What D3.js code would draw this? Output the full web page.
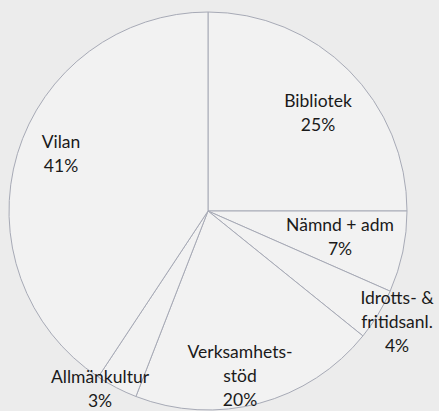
<!DOCTYPE html>
<html><head><meta charset="utf-8">
<script src="https://cdn.jsdelivr.net/npm/d3@7"></script>
<style>html,body{margin:0;padding:0;background:#ececec;}svg{display:block;}</style>
</head><body>
<svg id="chart" width="439" height="411"></svg>
<script>
const categories = ["Bibliotek", "Nämnd + adm", "Idrotts- & fritidsanl.", "Verksamhetsstöd", "Allmänkultur", "Vilan"];
const values = [25.0, 6.6, 4.2, 20.1, 3.4, 40.7];
const labelLines = [["Bibliotek"], ["Nämnd + adm"], ["Idrotts- &", "fritidsanl."], ["Verksamhets-", "stöd"], ["Allmänkultur"], ["Vilan"]];
const labelPos = [[318, 0], [340, 0], [397, 0], [240, 0], [100, 0], [61, 0]];
const labelTopBaseline = [107, 231, 304, 358, 383, 148];

const W = 439, H = 411, cx = 208, cy = 211, R = 199;
const svg = d3.select("#chart");
const g = svg.append("g").attr("transform", `translate(${cx},${cy})`);
const total = d3.sum(values);
const pie = d3.pie().sort(null).value(d => d)(values);
const arc = d3.arc().innerRadius(0).outerRadius(R);

g.selectAll("path").data(pie).join("path")
  .attr("d", arc)
  .attr("fill", "#f2f2f2")
  .attr("stroke", "#a7aab6")
  .attr("stroke-width", 1)
  .attr("stroke-linejoin", "round");

const fmt = v => Math.round(v / total * 100) + "%";
const lh = 24;
categories.forEach((c, i) => {
  const lines = labelLines[i].concat([fmt(values[i])]);
  const t = svg.append("text")
    .attr("text-anchor", "middle")
    .attr("font-family", "Lato, 'Open Sans', sans-serif")
    .attr("font-size", 17.5)
    .attr("fill", "#1a1a1a");
  lines.forEach((l, j) => {
    t.append("tspan").attr("x", labelPos[i][0]).attr("y", labelTopBaseline[i] + j * lh).text(l);
  });
});
</script>
</body></html>
